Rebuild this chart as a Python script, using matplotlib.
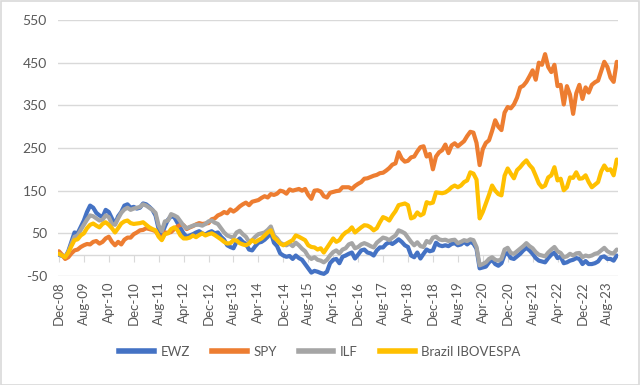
import matplotlib
matplotlib.use("Agg")
import matplotlib.pyplot as plt
from matplotlib.lines import Line2D
from matplotlib.patches import Rectangle
import pandas as pd

plt.rcParams['font.family'] = ['Lato', 'DejaVu Sans']

# Monthly, Dec-2008 .. Nov-2023 (cumulative % return)
dates = pd.date_range("2008-12-01", "2023-11-01", freq="MS")

ewz = [0,
    -3, -6, 8, 30, 52, 50, 65, 80, 100, 115, 110, 98,
    92, 88, 105, 100, 85, 72, 90, 100, 115, 118, 110, 112,
    108, 110, 120, 118, 112, 105, 92, 60, 48, 66, 82, 90,
    88, 75, 62, 50, 42, 45, 48, 52, 55, 50, 47, 52,
    55, 50, 52, 42, 35, 22, 18, 15, 30, 38, 30, 25,
    12, 10, 20, 28, 30, 35, 42, 52, 28, 20, 3, -2,
    -5, -3, -10, -2, -8, -12, -22, -32, -42, -38, -40, -43,
    -45, -40, -20, -12, -10, -20, -5, -2, 2, 5, -9, 0,
    10, 12, 5, 3, -2, 10, 17, 17, 25, 29, 25, 30,
    36, 30, 22, 18, -2, -6, 5, -9, 2, 12, 8, 10,
    28, 22, 20, 22, 20, 25, 27, 22, 24, 30, 24, 30,
    26, 14, -32, -30, -28, -18, -12, -22, -26, -20, 0, 4,
    -8, -10, -4, 2, 10, 16, 10, 2, -8, -14, -16, -18,
    -8, 0, 5, -8, -5, -20, -18, -14, -12, -8, -10, -22,
    -15, -22, -22, -20, -16, -6, -4, -10, -10, -14, -2]

spy = [8,
    0, -10, -6, 3, 10, 12, 18, 22, 25, 24, 30, 32,
    26, 30, 38, 42, 30, 22, 30, 24, 35, 40, 40, 48,
    52, 57, 58, 62, 60, 58, 55, 45, 36, 52, 51, 53,
    60, 66, 70, 69, 60, 64, 67, 71, 74, 72, 73, 74,
    83, 85, 92, 95, 100, 97, 106, 101, 106, 113, 118, 122,
    116, 124, 126, 128, 133, 137, 134, 142, 140, 143, 150, 148,
    143, 153, 150, 152, 154, 150, 154, 140, 131, 150, 151, 148,
    137, 134, 145, 147, 149, 150, 158, 158, 158, 154, 161, 166,
    170, 178, 179, 182, 185, 187, 191, 192, 197, 203, 211, 214,
    240, 225, 218, 220, 228, 230, 242, 252, 254, 230, 236, 200,
    230, 240, 245, 258, 238, 256, 261, 254, 260, 266, 278, 288,
    286, 262, 210, 247, 262, 268, 290, 315, 300, 292, 333, 346,
    343, 352, 368, 392, 396, 405, 418, 432, 410, 450, 445, 470,
    440, 428, 445, 395, 398, 352, 395, 375, 330, 378, 398, 365,
    392, 380, 398, 404, 408, 430, 452, 440, 415, 405, 452]

ilf = [2,
    -2, -4, 5, 25, 42, 45, 58, 70, 82, 92, 90, 85,
    80, 82, 92, 88, 72, 70, 85, 98, 106, 110, 105, 108,
    110, 112, 118, 115, 110, 105, 98, 68, 55, 78, 80, 95,
    92, 88, 78, 68, 62, 65, 68, 70, 70, 68, 72, 78,
    80, 75, 72, 62, 52, 45, 42, 40, 52, 56, 48, 42,
    30, 34, 42, 48, 50, 52, 58, 66, 45, 38, 28, 24,
    22, 26, 20, 28, 22, 14, 8, -4, -10, -6, -12, -14,
    -18, -12, -2, 6, 10, 3, 12, 15, 24, 27, 15, 18,
    24, 27, 24, 20, 17, 28, 34, 40, 38, 34, 40, 45,
    57, 54, 50, 40, 30, 22, 29, 20, 18, 32, 28, 40,
    42, 36, 34, 35, 32, 34, 35, 27, 30, 34, 32, 36,
    34, 18, -25, -22, -18, -10, -6, -12, -14, -10, 12, 16,
    4, 2, 8, 14, 20, 27, 20, 15, 6, 0, -2, -4,
    5, 12, 18, 8, 4, -6, -4, 2, -2, 3, 4, -6,
    -2, -4, -2, 2, 4, 10, 16, 8, 4, 3, 12]

ibov = [2,
    -2, -6, 5, 20, 34, 36, 45, 50, 62, 70, 73, 68,
    64, 72, 76, 70, 62, 52, 62, 73, 78, 80, 74, 72,
    73, 74, 76, 70, 64, 60, 57, 42, 34, 48, 50, 60,
    64, 58, 45, 38, 38, 40, 45, 41, 46, 50, 45, 48,
    50, 46, 41, 36, 30, 26, 27, 34, 33, 27, 24, 22,
    26, 34, 29, 34, 38, 45, 52, 57, 40, 34, 26, 22,
    26, 30, 34, 45, 42, 38, 34, 22, 18, 17, 12, 15,
    5, 16, 27, 38, 30, 34, 45, 52, 56, 64, 52, 58,
    64, 69, 68, 64, 57, 62, 76, 88, 85, 80, 92, 102,
    116, 118, 120, 116, 85, 88, 99, 92, 96, 123, 120, 122,
    146, 145, 144, 146, 151, 158, 162, 158, 162, 170, 174, 193,
    190, 176, 85, 100, 120, 140, 162, 150, 142, 139, 185, 202,
    190, 179, 198, 205, 214, 221, 210, 202, 185, 167, 158, 162,
    181, 186, 205, 174, 178, 151, 158, 181, 180, 193, 178, 179,
    186, 170, 158, 164, 170, 195, 209, 198, 200, 186, 223]

series_names = ["EWZ", "SPY", "ILF", "Brazil IBOVESPA"]
series_colors = ["#4472C4", "#ED7D31", "#A5A5A5", "#FFC000"]
yticks = [-50, 50, 150, 250, 350, 450, 550]

fig = plt.figure(figsize=(6.4, 3.85), dpi=100)
fig.patches.append(Rectangle((0.001, 0.001), 0.997, 0.996, transform=fig.transFigure,
                             fill=False, edgecolor="#d9d9d9", linewidth=1.2))
ax = fig.add_axes([58/640, 1-276/385, 560/640, 256/385])

x = list(range(len(dates)))
for vals, name, col in zip([ewz, spy, ilf, ibov], series_names, series_colors):
    ax.plot(x, vals, color=col, linewidth=3.0, label=name, solid_joinstyle="round",
            solid_capstyle="round", zorder=3)

ax.set_ylim(-50, 550)
ax.set_xlim(-0.3, len(dates) - 0.6)
ax.set_yticks(yticks)
ax.set_yticklabels([str(v) for v in yticks], fontsize=10, color="#595959")
ax.yaxis.grid(True, color="#d9d9d9", linewidth=1)
ax.set_axisbelow(True)
ax.tick_params(axis="y", length=0, pad=8)
for s in ["left", "right", "top"]:
    ax.spines[s].set_visible(False)

# axis line at zero with outward tick marks
tick_pos = list(range(0, len(dates), 8))
ax.spines["bottom"].set_position(("data", 0))
ax.spines["bottom"].set_color("#d9d9d9")
ax.spines["bottom"].set_linewidth(1)
ax.set_xticks(tick_pos)
ax.tick_params(axis="x", length=5, color="#d9d9d9", labelbottom=False)

sec = ax.secondary_xaxis(0.0)
sec.set_xticks(tick_pos)
sec.set_xticklabels([dates[i].strftime("%b-%y") for i in tick_pos], rotation=90,
                    fontsize=9.5, color="#595959")
sec.tick_params(length=0, pad=4)
sec.spines["bottom"].set_visible(False)

handles = [Line2D([0], [0], color=c, linewidth=4) for c in series_colors]
leg = fig.legend(handles, series_names, loc="center", bbox_to_anchor=(0.5, 1-352/385),
                 ncol=4, frameon=False, fontsize=9.5, handlelength=2.6, columnspacing=1.7,
                 handletextpad=0.5)
for t in leg.get_texts():
    t.set_color("#595959")

fig.savefig("out.png", dpi=100)
